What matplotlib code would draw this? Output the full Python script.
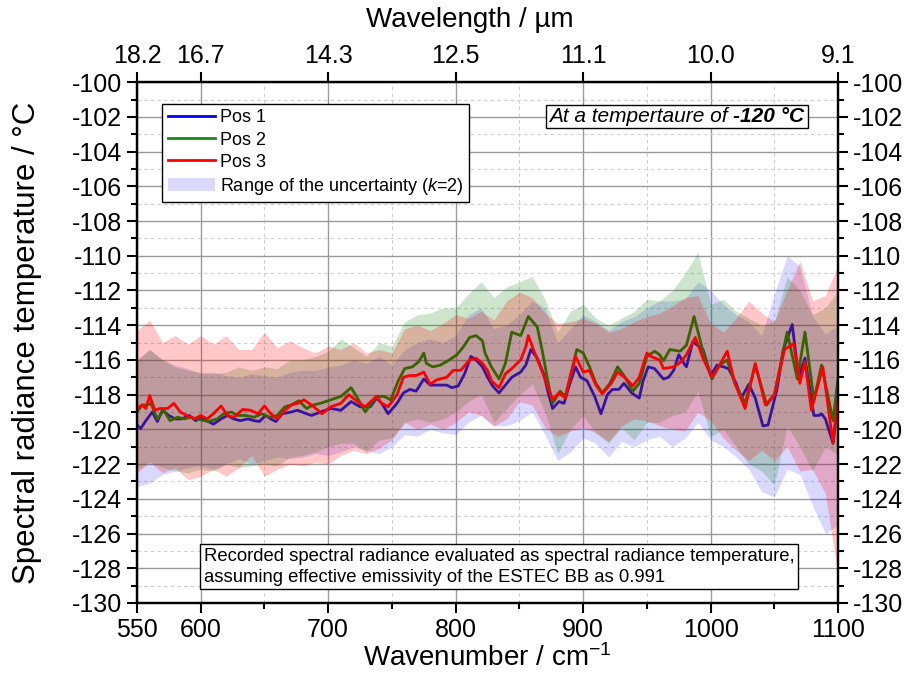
import matplotlib
matplotlib.use('Agg')
import matplotlib.pyplot as plt
from matplotlib.lines import Line2D
from matplotlib.patches import Patch, Rectangle
from matplotlib.ticker import FixedLocator

plt.rcParams['font.family'] = ['Liberation Sans', 'DejaVu Sans']
plt.rcParams['mathtext.fontset'] = 'custom'
plt.rcParams['mathtext.rm'] = 'Liberation Sans'
plt.rcParams['mathtext.it'] = 'Liberation Sans:italic'
plt.rcParams['mathtext.bf'] = 'Liberation Sans:bold'
plt.rcParams['axes.unicode_minus'] = False

# ---------------- data ----------------
pos1_x = [550, 553, 557, 562, 566, 570, 575, 580, 585, 591, 596, 601, 606, 610, 616, 621, 626, 631,
          637, 642, 646, 651, 655, 659, 664, 671, 676, 683, 687, 694, 702, 710, 718, 725, 733, 738,
          742, 747, 754, 759, 764, 769, 775, 780, 786, 793, 797, 802, 807, 812, 816, 821, 825, 829,
          834, 839, 844, 851, 855, 859, 864, 869, 873, 876, 881, 885, 889, 894, 898, 903, 909, 914,
          919, 923, 928, 932, 938, 944, 947, 951, 956, 963, 967, 971, 975, 979, 981, 986, 994, 1000,
          1005, 1010, 1014, 1020, 1024, 1030, 1035, 1041, 1045, 1052, 1057, 1064, 1069, 1074, 1081,
          1085, 1087, 1090, 1096, 1100]
pos1_t = [-119.75, -119.95, -119.5, -119.0, -119.55, -118.9, -119.2, -119.4, -119.4, -119.2, -119.5,
          -119.3, -119.55, -119.7, -119.4, -119.2, -119.4, -119.5, -119.4, -119.5, -119.55, -119.2,
          -119.4, -119.55, -119.1, -119.0, -118.9, -119.1, -119.2, -119.0, -118.8, -118.9, -118.4,
          -118.7, -118.7, -118.2, -118.5, -119.1, -118.5, -117.9, -117.7, -117.8, -117.1, -117.45,
          -117.45, -117.45, -117.6, -117.5, -116.8, -115.8, -116.0, -116.4, -117.0, -117.5, -117.9,
          -117.45, -117.0, -116.7, -116.3, -115.4, -115.9, -116.8, -118.0, -118.8, -118.4, -118.5,
          -117.5, -116.4, -117.0, -117.2, -118.1, -119.1, -118.0, -117.7, -117.7, -117.35, -117.9,
          -118.2, -117.2, -116.4, -116.5, -117.1, -117.0, -116.6, -115.7, -116.2, -116.4, -114.95,
          -115.4, -116.9, -116.3, -116.4, -116.5, -117.35, -118.2, -117.4, -118.2, -119.8, -119.75,
          -117.7, -115.4, -113.96, -117.0, -115.9, -119.2, -119.2, -119.1, -119.4, -120.8, -118.2]

pos2_x = [550, 554, 558, 561, 566, 571, 576, 582, 587, 592, 597, 603, 606, 613, 618, 624, 629, 635,
          642, 648, 654, 660, 666, 671, 677, 683, 688, 694, 702, 710, 718, 723, 729, 738, 744, 749,
          755, 760, 766, 771, 775, 777, 782, 788, 795, 801, 806, 811, 816, 821, 823, 828, 834, 839,
          844, 851, 857, 864, 868, 873, 876, 882, 886, 895, 900, 905, 910, 915, 921, 927, 932, 939,
          944, 950, 956, 960, 963, 968, 976, 981, 987, 994, 1001, 1007, 1013, 1019, 1027, 1035, 1044,
          1050, 1060, 1068, 1074, 1081, 1087, 1096, 1100]
pos2_t = [-119.0, -118.6, -118.6, -118.5, -119.4, -118.9, -119.5, -119.3, -119.4, -119.3, -119.4,
          -119.5, -119.55, -119.4, -119.1, -119.0, -119.2, -119.2, -119.3, -119.1, -119.3, -119.2,
          -118.7, -118.6, -118.35, -118.8, -118.6, -118.5, -118.3, -118.1, -117.6, -118.2, -119.0,
          -118.1, -118.1, -118.3, -117.2, -116.5, -116.4, -116.1, -115.6, -116.2, -116.4, -116.3,
          -116.0, -115.7, -115.25, -114.7, -114.6, -114.9, -115.6, -116.4, -117.1, -116.2, -114.4,
          -114.6, -113.5, -114.1, -115.5, -117.5, -118.5, -117.8, -118.1, -115.4, -115.6, -116.4,
          -117.35, -117.9, -117.35, -116.4, -116.9, -117.8, -117.35, -115.8, -115.5, -115.7, -116.05,
          -115.4, -115.5, -115.15, -113.5, -115.5, -117.1, -116.3, -116.0, -117.35, -118.5, -116.3,
          -118.6, -118.0, -114.4, -117.1, -114.4, -118.3, -116.3, -119.5, -117.0]

pos3_x = [550, 554, 557, 560, 564, 568, 574, 579, 584, 589, 595, 600, 605, 610, 616, 621, 626, 633,
          639, 645, 650, 655, 660, 666, 671, 676, 681, 687, 692, 695, 702, 710, 716, 723, 729, 738,
          742, 747, 754, 759, 764, 769, 775, 780, 785, 793, 798, 804, 811, 816, 821, 825, 828, 834,
          839, 844, 851, 855, 857, 861, 868, 873, 876, 881, 886, 894, 900, 905, 910, 915, 922, 927,
          934, 939, 944, 950, 953, 960, 963, 971, 977, 981, 988, 994, 1001, 1007, 1013, 1019, 1027,
          1035, 1043, 1050, 1058, 1065, 1070, 1074, 1079, 1088, 1096, 1100]
pos3_t = [-118.8, -118.6, -118.8, -118.05, -118.9, -118.8, -118.8, -118.5, -119.0, -119.2, -119.4,
          -119.2, -119.4, -119.1, -118.65, -119.2, -119.3, -118.85, -118.9, -119.1, -118.65, -119.1,
          -119.4, -118.9, -118.6, -118.5, -118.3, -118.6, -118.9, -119.1, -118.7, -118.5, -118.0,
          -118.4, -118.7, -118.1, -118.5, -118.7, -118.0, -117.0, -116.9, -116.9, -116.7, -117.4,
          -117.15, -117.0, -116.6, -116.6, -116.0, -115.9, -116.2, -116.6, -117.2, -117.6, -116.8,
          -116.5, -116.0, -115.25, -114.6, -115.4, -116.7, -117.7, -118.3, -117.9, -118.2, -115.8,
          -116.7, -116.6, -117.45, -117.95, -117.35, -116.7, -117.1, -117.5, -117.0, -115.6, -115.8,
          -116.0, -116.5, -116.4, -116.1, -115.7, -114.7, -115.9, -117.0, -116.3, -115.5, -117.35,
          -118.8, -116.2, -118.6, -118.0, -115.4, -115.05, -117.35, -116.1, -118.9, -116.4, -120.8,
          -118.3]

# uncertainty bands (k=2), upper / lower limits every 10 cm-1
band_x = [550, 560, 570, 580, 590, 600, 610, 620, 630, 640, 650, 660, 670, 680, 690, 700, 710, 720,
          730, 740, 750, 760, 770, 780, 790, 800, 810, 820, 830, 840, 850, 860, 870, 880, 890, 900,
          910, 920, 930, 940, 950, 960, 970, 980, 990, 1000, 1010, 1020, 1030, 1040, 1050, 1060,
          1070, 1080, 1090, 1100]
pos1_upper = [-116.0, -115.4, -116.0, -116.3, -116.5, -116.8, -116.7, -116.9, -117.0, -116.8, -116.9,
              -117.0, -116.7, -116.6, -116.6, -116.4, -116.3, -116.0, -116.2, -115.8, -116.3, -115.4,
              -115.0, -114.8, -115.0, -114.6, -113.4, -113.0, -114.2, -114.0, -113.4, -112.6, -113.0,
              -115.0, -114.2, -113.4, -113.8, -114.3, -113.8, -113.5, -113.0, -112.6, -112.6, -112.5,
              -111.5, -112.0, -112.8, -113.4, -113.8, -114.6, -112.2, -110.0, -110.6, -113.5, -114.5,
              -114.0]
pos1_lower = [-123.3, -123.1, -122.6, -122.4, -122.2, -122.1, -122.3, -122.0, -121.7, -122.0, -121.8,
              -121.6, -121.7, -121.6, -121.4, -121.5, -121.3, -121.0, -121.2, -121.4, -121.0, -120.3,
              -120.4, -120.0, -120.2, -120.3, -119.6, -119.2, -119.8, -119.8, -119.5, -119.0, -120.3,
              -121.8, -121.3, -120.5, -120.8, -121.6, -120.7, -121.0, -120.6, -120.4, -121.0, -120.5,
              -119.6, -120.6, -121.0, -121.6, -122.3, -123.6, -123.9, -122.3, -122.6, -124.4, -126.0,
              -125.5]
pos2_upper = [-116.0, -115.4, -116.0, -116.4, -116.6, -116.7, -116.8, -116.7, -116.4, -116.6, -116.4,
              -116.5, -116.0, -116.0, -115.8, -115.5, -114.8, -115.3, -115.8, -115.0, -115.2, -113.8,
              -113.4, -113.3, -113.0, -113.0, -112.2, -111.5, -112.4, -111.8, -111.5, -111.2, -112.5,
              -114.4, -113.2, -112.8, -113.6, -114.0, -113.6, -113.2, -112.5, -112.6, -112.0, -111.0,
              -109.8, -112.8, -112.5, -113.2, -113.6, -114.0, -113.8, -111.2, -112.0, -113.4, -113.0,
              -112.0]
pos2_lower = [-122.3, -121.9, -122.2, -122.4, -122.5, -122.3, -122.4, -122.0, -122.2, -122.1, -122.0,
              -122.1, -121.6, -121.5, -121.3, -121.0, -120.8, -120.8, -121.3, -120.6, -120.5, -119.6,
              -119.4, -119.6, -119.4, -119.0, -118.4, -118.0, -119.6, -118.8, -118.0, -117.4, -119.0,
              -121.4, -120.0, -119.2, -120.2, -120.8, -119.9, -120.6, -119.6, -119.6, -119.2, -119.0,
              -117.8, -120.4, -120.0, -121.0, -122.0, -122.4, -123.2, -119.8, -121.0, -122.4, -121.0,
              -121.5]
pos3_upper = [-114.3, -113.7, -115.0, -114.6, -115.1, -114.6, -115.1, -114.6, -115.4, -115.4, -114.4,
              -115.3, -114.9, -115.3, -115.6, -115.2, -115.4, -115.0, -115.6, -115.4, -115.6, -114.2,
              -114.0, -114.3, -113.9, -113.4, -113.6, -113.2, -113.7, -112.6, -112.1, -112.4, -113.3,
              -113.9, -113.8, -113.6, -113.9, -114.4, -114.2, -113.8, -113.5, -113.3, -112.9, -112.4,
              -112.3, -113.9, -114.4, -113.6, -112.6, -113.3, -113.8, -112.0, -110.3, -112.6, -112.3,
              -110.5]
pos3_lower = [-122.5, -121.9, -122.5, -122.2, -122.9, -122.7, -122.3, -122.7, -122.2, -121.5, -122.7,
              -122.3, -122.0, -122.1, -121.9, -122.0, -121.5, -121.2, -121.4, -121.1, -120.6, -119.6,
              -120.0, -119.7, -120.0, -119.6, -119.0, -119.2, -119.8, -119.4, -118.4, -118.6, -119.9,
              -120.4, -120.1, -119.9, -120.2, -120.7, -119.8, -119.4, -119.5, -119.8, -120.0, -120.1,
              -119.0, -119.5, -120.5, -121.2, -121.8, -121.2, -121.8, -121.0, -122.4, -122.3, -123.7,
              -128.5]

series_labels = ['Pos 1', 'Pos 2', 'Pos 3']
band_label = 'Range of the uncertainty ($k$=2)'
x_ticks = [550, 600, 700, 800, 900, 1000, 1100]
x_minor = [650, 750, 850, 950, 1050]
wavelength_labels = ['18.2', '16.7', '14.3', '12.5', '11.1', '10.0', '9.1']
y_ticks = list(range(-130, -99, 2))
y_minor = list(range(-129, -100, 2))

# ---------------- figure ----------------
fig = plt.figure(figsize=(9.13, 6.79), dpi=100)
ax = fig.add_axes([0.150, 0.112, 0.768, 0.767])

band_specs = [
    (pos1_lower, pos1_upper, '#0000ff', 0.15, pos1_x, pos1_t, '#0000ff'),
    (pos2_lower, pos2_upper, '#008000', 0.20, pos2_x, pos2_t, '#008000'),
    (pos3_lower, pos3_upper, '#ff0000', 0.22, pos3_x, pos3_t, '#ff0000'),
]
z = 1.0
for lo, up, bc, a, lx, ly, lc in band_specs:
    ax.fill_between(band_x, lo, up, color=bc, alpha=a, lw=0, zorder=z)
    ax.plot(lx, ly, color=lc, lw=2.0, zorder=z + 0.1, solid_joinstyle='round')
    z += 0.2

ax.set_xlim(550, 1100)
ax.set_ylim(-130, -100)
ax.xaxis.set_major_locator(FixedLocator(x_ticks))
ax.xaxis.set_minor_locator(FixedLocator(x_minor))
ax.yaxis.set_major_locator(FixedLocator(y_ticks))
ax.yaxis.set_minor_locator(FixedLocator(y_minor))
ax.set_axisbelow(True)
ax.grid(which='major', color='#9a9a9a', lw=1.0, ls='-', zorder=0)
ax.grid(which='minor', color='#cfcfcf', lw=0.8, ls=(0, (3, 3)), zorder=0)

ax.tick_params(axis='both', which='major', labelsize=18, length=7, width=1.5, direction='out')
ax.tick_params(axis='both', which='minor', length=4, width=1.5, direction='out')
ax.tick_params(axis='y', which='both', right=True, labelright=True)
for s in ax.spines.values():
    s.set_linewidth(1.6)

ax.set_xlabel('Wavenumber / cm$^{-1}$', fontsize=20, labelpad=2)
ax.set_ylabel('Spectral radiance temperature / °C', fontsize=22.5, labelpad=2)
ax.yaxis.set_label_coords(-0.136, 0.5)

ax2 = ax.twiny()
ax2.set_xlim(550, 1100)
ax2.xaxis.set_major_locator(FixedLocator(x_ticks))
ax2.set_xticklabels(wavelength_labels)
ax2.xaxis.set_minor_locator(FixedLocator([]))
ax2.tick_params(axis='x', which='major', labelsize=18, length=7, width=1.5, direction='out')
ax2.set_xlabel('Wavelength / µm', fontsize=20, labelpad=8)
ax2.xaxis.set_label_coords(0.475, 1.105)
for s in ax2.spines.values():
    s.set_linewidth(1.6)

handles = [Line2D([], [], color='#0000ff', lw=2),
           Line2D([], [], color='#1a8a1a', lw=2),
           Line2D([], [], color='#ff0000', lw=2),
           Patch(facecolor='#0000ff', alpha=0.15, edgecolor='none')]
leg = ax.legend(handles, series_labels + [band_label], loc='upper left',
                bbox_to_anchor=(0.036, 0.958), borderaxespad=0, fontsize=13,
                frameon=True, fancybox=False, framealpha=1, edgecolor='black',
                handlelength=2.6, handletextpad=0.3, labelspacing=0.28, borderpad=0.3)
leg.get_frame().set_linewidth(1.0)
leg.set_zorder(10)

ax.text(0.0956, 0.033,
        'Recorded spectral radiance evaluated as spectral radiance temperature,\n'
        'assuming effective emissivity of the ESTEC BB as 0.991',
        transform=ax.transAxes, fontsize=13.3, ha='left', va='bottom', linespacing=1.3,
        zorder=10, bbox=dict(boxstyle='square,pad=0.2', fc='white', ec='black', lw=1.0))

t1 = ax.text(0.588, 0.935, 'At a tempertaure of ', transform=ax.transAxes, fontsize=15,
             style='italic', ha='left', va='center', zorder=12)
t2 = ax.annotate('-120 °C', xy=(1, 0), xycoords=t1, fontsize=15, style='italic',
                 fontweight='bold', ha='left', va='bottom', zorder=12)
fig.canvas.draw()
r = fig.canvas.get_renderer()
b1 = t1.get_window_extent(r)
b2 = t2.get_window_extent(r)
x0, x1 = b1.x0 - 3, b2.x1 + 3
y0, y1 = min(b1.y0, b2.y0) - 2, max(b1.y1, b2.y1) + 2
inv = ax.transAxes.inverted()
(ax0, ay0), (ax1, ay1) = inv.transform([(x0, y0), (x1, y1)])
ax.add_patch(Rectangle((ax0, ay0), ax1 - ax0, ay1 - ay0, transform=ax.transAxes,
                       fc='white', ec='black', lw=1.0, zorder=11, clip_on=False))

fig.savefig('out.png', dpi=100)
